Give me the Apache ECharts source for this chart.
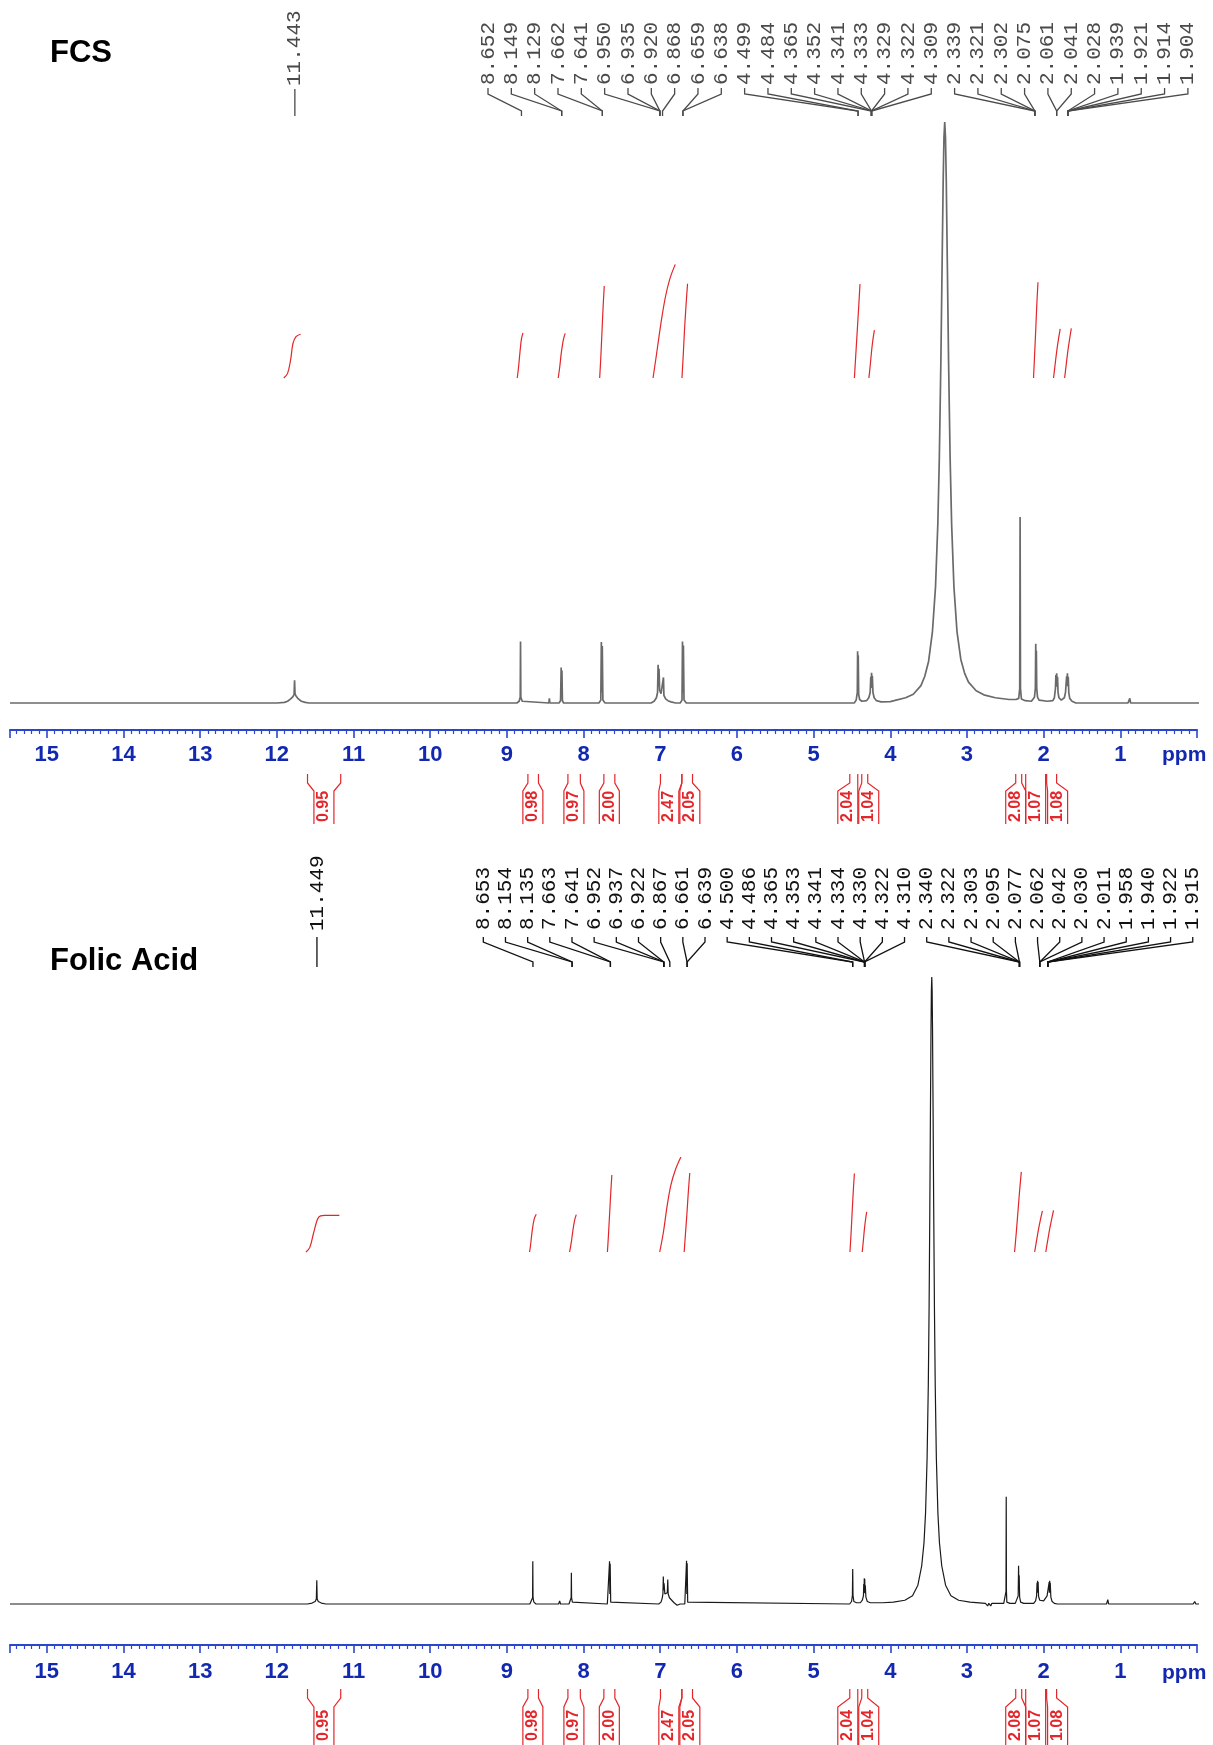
<!DOCTYPE html>
<html><head><meta charset="utf-8">
<script src="https://cdn.jsdelivr.net/npm/echarts@6/dist/echarts.min.js"></script>
<style>html,body{margin:0;padding:0;background:#fff}#c{width:1213px;height:1745px}</style>
</head><body><div id="c"></div>
<script>
// ---------------- data ----------------
const panelTitles = ['FCS', 'Folic Acid'];
const axisUnit = 'ppm';
const ppmMin = 0, ppmMax = 15.48, ppmStep = 1;

// spectra: [ppm, intensity as % of the solvent/water peak]
const fcsSpectrum = [
 [15.48,0],[12.0,0],
 [11.90,0.1],[11.86,0.3],[11.82,0.7],[11.79,1.1],[11.775,1.5],[11.769,3.9],[11.763,1.6],[11.75,1.2],[11.72,0.7],[11.68,0.3],[11.63,0.1],[11.58,0],
 [8.87,0],[8.84,0.3],[8.826,1.0],[8.822,10.6],[8.818,1.0],[8.80,0.3],[8.78,0],
 [8.452,0],[8.446,0.8],[8.440,0],
 [8.32,0],[8.30,0.4],[8.292,6.1],[8.288,1.5],[8.282,5.6],[8.276,0.4],[8.26,0],
 [7.80,0],[7.775,0.5],[7.768,10.5],[7.762,1.8],[7.756,9.8],[7.748,0.5],[7.72,0],
 [7.12,0],[7.08,0.3],[7.05,0.9],[7.035,1.8],[7.028,6.6],[7.022,2.8],[7.016,5.9],[7.008,2.2],[6.99,1.6],[6.965,1.5],[6.958,4.4],[6.952,1.3],[6.93,0.7],[6.90,0.4],[6.86,0.2],[6.80,0],
 [6.74,0],[6.716,0.5],[6.710,10.6],[6.704,1.8],[6.698,9.9],[6.690,0.5],[6.66,0],
 [4.47,0],[4.445,0.5],[4.430,1.8],[4.426,8.9],[4.422,2.6],[4.418,8.2],[4.412,1.5],[4.40,0.6],[4.37,0.3],[4.31,0.4],[4.28,0.9],[4.262,1.8],[4.254,4.5],[4.249,2.6],[4.244,5.2],[4.239,2.6],[4.234,4.7],[4.226,1.8],[4.21,0.9],[4.18,0.4],[4.12,0.2],[4.0,0.25],
 [3.95,0.4],[3.80,0.9],[3.70,1.5],[3.60,3.0],[3.55,4.6],[3.50,7.2],[3.45,12.3],[3.41,20],[3.38,30.8],[3.36,42.4],[3.34,59],[3.325,74.6],[3.31,90],[3.30,97.3],[3.29,100],
 [3.28,97.3],[3.27,90],[3.255,74.6],[3.24,59],[3.22,42.4],[3.20,30.8],[3.17,20],[3.13,12.3],[3.08,7.5],[3.03,5.1],[2.98,3.6],[2.88,2.1],[2.78,1.4],[2.63,0.9],[2.45,0.6],
 [2.36,0.6],[2.325,0.8],[2.312,2.5],[2.307,32],[2.302,2.5],[2.29,0.7],[2.24,0.4],[2.16,0.3],
 [2.14,0.4],[2.12,1.0],[2.108,2.5],[2.103,10.2],[2.099,4.5],[2.095,9.0],[2.090,2.5],[2.08,1.0],[2.06,0.5],[1.95,0.3],
 [1.88,0.4],[1.86,0.9],[1.846,2.5],[1.840,4.8],[1.835,2.8],[1.830,5.1],[1.825,3.0],[1.819,4.5],[1.812,1.8],[1.80,0.9],[1.77,0.5],[1.755,0.6],
 [1.73,0.9],[1.715,1.8],[1.700,4.6],[1.695,3.0],[1.690,5.1],[1.685,2.9],[1.679,4.5],[1.672,1.8],[1.66,0.8],[1.63,0.3],[1.58,0],
 [0.90,0],[0.876,0.8],[0.866,0],[-0.2,0]
];
const folicSpectrum = [
 [15.48,0],[11.60,0],[11.54,0.15],[11.50,0.4],[11.485,0.8],[11.479,3.8],[11.474,0.8],[11.46,0.4],[11.42,0.15],[11.36,0],
 [8.70,0],[8.675,0.3],[8.665,1.0],[8.662,6.8],[8.659,1.0],[8.648,0.3],[8.62,0],
 [8.325,0],[8.312,0.5],[8.300,0],
 [8.19,0],[8.17,0.3],[8.162,1.0],[8.159,5.0],[8.156,1.0],[8.146,0.3],[8.12,0],
 [7.69,0],[7.667,0.3],[7.661,6.8],[7.657,1.6],[7.653,6.4],[7.646,0.3],[7.62,0],
 [7.02,0],[6.99,0.3],[6.975,0.9],[6.965,1.6],[6.960,4.4],[6.955,2.2],[6.950,3.3],[6.94,1.6],[6.925,1.3],[6.908,1.8],[6.902,3.9],[6.896,1.6],[6.88,1.0],[6.85,0.6],[6.82,0.2],[6.78,-0.2],[6.74,0],
 [6.68,0],[6.662,0.3],[6.657,6.9],[6.653,1.6],[6.649,6.5],[6.642,0.3],[6.62,0],
 [4.53,0],[4.505,0.4],[4.494,1.4],[4.490,5.6],[4.486,1.4],[4.475,0.4],[4.44,0.2],
 [4.39,0.2],[4.365,0.6],[4.350,1.3],[4.346,3.2],[4.342,1.8],[4.339,4.1],[4.336,1.9],[4.333,4.0],[4.330,1.7],[4.326,3.0],[4.318,1.1],[4.30,0.4],[4.26,0.2],
 [4.10,0.2],[3.96,0.3],[3.81,0.6],[3.71,1.3],[3.64,3.0],[3.59,6.1],[3.56,9.8],[3.54,14.5],[3.52,23.2],[3.504,35],[3.494,47],[3.484,63.5],[3.476,79],[3.469,91.6],[3.464,97.8],[3.459,100],
 [3.454,97.8],[3.449,91.6],[3.442,79],[3.434,63.5],[3.424,47],[3.414,35],[3.399,23.2],[3.379,14.5],[3.359,9.8],[3.329,6.1],[3.279,3.0],[3.209,1.3],[3.109,0.6],[2.96,0.3],[2.80,0.15],
 [2.76,0.1],[2.73,-0.3],[2.715,0.1],[2.69,-0.3],[2.675,0.1],[2.60,0.1],
 [2.52,0.1],[2.495,0.3],[2.491,2.0],[2.488,17.1],[2.485,2.0],[2.48,0.3],[2.44,0.1],
 [2.37,0.1],[2.345,0.4],[2.332,1.3],[2.327,6.1],[2.323,2.6],[2.319,4.6],[2.313,1.1],[2.30,0.3],[2.26,0.1],
 [2.13,0.1],[2.105,0.5],[2.092,1.3],[2.086,3.4],[2.083,1.8],[2.079,3.7],[2.076,1.8],[2.072,3.5],[2.066,1.2],[2.05,0.6],[2.00,0.5],[1.975,0.7],
 [1.955,1.3],[1.935,1.6],[1.928,3.5],[1.925,1.8],[1.921,3.7],[1.918,1.8],[1.914,3.4],[1.906,1.1],[1.89,0.4],[1.86,0.1],[1.82,0],
 [1.18,0],[1.163,0.7],[1.153,0],
 [0.05,0],[0.03,0.4],[0.015,0],[-0.2,0]
];

// peak picking labels and the ppm where each leader meets the drawn spectrum
const fcsPeakLabels = ['8.652','8.149','8.129','7.662','7.641','6.950','6.935','6.920','6.868','6.659','6.638','4.499','4.484','4.365','4.352','4.341','4.333','4.329','4.322','4.309','2.339','2.321','2.302','2.075','2.061','2.041','2.028','1.939','1.921','1.914','1.904'];
const fcsPeakTargets = [8.81,8.285,8.285,7.755,7.755,7.005,7.005,7.005,6.97,6.704,6.704,4.42,4.42,4.245,4.245,4.245,4.245,4.245,4.245,4.245,2.115,2.115,2.115,2.115,1.83,1.83,1.685,1.685,1.685,1.685,1.685];
const fcsSingleLabel = '11.443', fcsSingleTarget = 11.765;
const folicPeakLabels = ['8.653','8.154','8.135','7.663','7.641','6.952','6.937','6.922','6.867','6.661','6.639','4.500','4.486','4.365','4.353','4.341','4.334','4.330','4.322','4.310','2.340','2.322','2.303','2.095','2.077','2.062','2.042','2.030','2.011','1.958','1.940','1.922','1.915'];
const folicPeakTargets = [8.66,8.15,8.15,7.65,7.65,6.953,6.953,6.953,6.875,6.65,6.65,4.49,4.49,4.335,4.335,4.335,4.335,4.335,4.335,4.335,2.315,2.315,2.315,2.315,2.315,2.05,2.05,2.05,1.946,1.946,1.946,1.946,1.946];
const folicSingleLabel = '11.449', folicSingleTarget = 11.477;

// integrals (same values in both spectra)
const integralValues = ['0.95','0.98','0.97','2.00','2.47','2.05','2.04','1.04','2.08','1.07','1.08'];
const integralRegions = [[11.60,11.167],[8.726,8.588],[8.204,8.042],[7.735,7.592],[6.997,6.718],[6.718,6.579],[4.528,4.424],[4.372,4.294],[2.364,2.286],[2.234,1.974],[1.961,1.831]];
const integralCenters = [11.386,8.661,8.126,7.664,6.888,6.614,4.554,4.281,2.364,2.104,1.818];

const fcsIntegralCurves = [
 [[11.91,0],[11.86,0.1],[11.82,0.4],[11.79,0.75],[11.75,0.9],[11.69,0.95]],
 [[8.865,0],[8.85,0.2],[8.83,0.55],[8.81,0.85],[8.79,0.98]],
 [[8.33,0],[8.31,0.25],[8.29,0.55],[8.265,0.82],[8.24,0.97]],
 [[7.79,0],[7.775,0.45],[7.76,1.0],[7.745,1.55],[7.73,2.0]],
 [[7.094,0],[7.05,0.5],[6.99,1.2],[6.934,1.75],[6.876,2.15],[6.804,2.47]],
 [[6.717,0],[6.70,0.5],[6.685,1.0],[6.665,1.55],[6.644,2.05]],
 [[4.468,0],[4.45,0.5],[4.43,1.05],[4.41,1.6],[4.395,2.04]],
 [[4.279,0],[4.26,0.3],[4.243,0.6],[4.225,0.85],[4.207,1.04]],
 [[2.132,0],[2.118,0.5],[2.103,1.05],[2.089,1.6],[2.074,2.08]],
 [[1.871,0],[1.85,0.3],[1.828,0.6],[1.806,0.85],[1.784,1.07]],
 [[1.726,0],[1.705,0.3],[1.683,0.6],[1.661,0.85],[1.639,1.08]]
];
const folicIntegralCurves = [
 [[11.62,0],[11.57,0.12],[11.52,0.5],[11.47,0.85],[11.43,0.94],[11.38,0.95],[11.185,0.95]],
 [[8.704,0],[8.69,0.2],[8.67,0.55],[8.645,0.85],[8.617,0.98]],
 [[8.182,0],[8.16,0.25],[8.14,0.55],[8.117,0.82],[8.095,0.97]],
 [[7.689,0],[7.675,0.45],[7.66,1.0],[7.645,1.55],[7.631,2.0]],
 [[7.007,0],[6.96,0.5],[6.91,1.2],[6.86,1.75],[6.80,2.15],[6.731,2.47]],
 [[6.688,0],[6.67,0.5],[6.652,1.0],[6.634,1.55],[6.615,2.05]],
 [[4.526,0],[4.511,0.5],[4.497,1.05],[4.482,1.6],[4.468,2.04]],
 [[4.366,0],[4.351,0.3],[4.337,0.6],[4.322,0.85],[4.308,1.04]],
 [[2.379,0],[2.357,0.5],[2.335,1.05],[2.313,1.6],[2.291,2.08]],
 [[2.117,0],[2.092,0.3],[2.066,0.6],[2.041,0.85],[2.016,1.07]],
 [[1.972,0],[1.947,0.3],[1.921,0.6],[1.896,0.85],[1.871,1.08]]
];

// ---------------- layout / style ----------------
const BLUE = '#2a46cc', BLUE_TXT = '#1228b0', RED = '#e3262a';
const MONO = '"Liberation Mono", "DejaVu Sans Mono", monospace';
const SANS = '"Liberation Sans", Arial, sans-serif';
const peakLayout = [
 { x0: 488, step: 23.33, font: 21, textY: 85, y0: 88, y1: 94, y2: 111, y3: 116, sTextY: 86, sY0: 89, color: '#4a4a4a' },
 { x0: 483.3, step: 22.17, font: 21, textY: 930, y0: 937, y1: 942, y2: 962, y3: 967, sTextY: 931, sY0: 937, color: '#111' }
];
const intLayout = [
 { y0: 774, y1: 783, y2: 791, y3: 824, textY: 822 },
 { y0: 1689, y1: 1698, y2: 1707, y3: 1750, textY: 1741 }
];

function peakRender(labels, single, lay) {
  return function (params, api) {
    const idx = api.value(2);
    const xt = api.coord([api.value(0), 0])[0];
    const font = { fontSize: lay.font, fontFamily: MONO, fill: lay.color, align: 'left', verticalAlign: 'middle', textAlign: 'left', textVerticalAlign: 'middle' };
    if (idx < 0) {
      return { type: 'group', children: [
        { type: 'line', shape: { x1: xt, y1: lay.sY0, x2: xt, y2: lay.y3 }, style: { stroke: lay.color, lineWidth: 1.3 } },
        { type: 'text', x: xt, y: lay.sTextY, rotation: Math.PI / 2, style: Object.assign({ text: single }, font) }
      ]};
    }
    const xl = lay.x0 + idx * lay.step;
    return { type: 'group', children: [
      { type: 'polyline', shape: { points: [[xl, lay.y0], [xl, lay.y1], [xt, lay.y2], [xt, lay.y3]] }, style: { stroke: lay.color, lineWidth: 1.3, fill: 'none' } },
      { type: 'text', x: xl, y: lay.textY, rotation: Math.PI / 2, style: Object.assign({ text: labels[idx] }, font) }
    ]};
  };
}
function intRender(lay) {
  return function (params, api) {
    const i = api.value(2);
    const xa = api.coord([integralRegions[i][0], 0])[0];
    const xb = api.coord([integralRegions[i][1], 0])[0];
    const xc = api.coord([api.value(0), 0])[0];
    const hw = 10;
    const st = { stroke: RED, lineWidth: 1.2, fill: 'none' };
    return { type: 'group', children: [
      { type: 'polyline', shape: { points: [[xa, lay.y0], [xa, lay.y1], [xc - hw, lay.y2], [xc - hw, lay.y3]] }, style: st },
      { type: 'polyline', shape: { points: [[xb, lay.y0], [xb, lay.y1], [xc + hw, lay.y2], [xc + hw, lay.y3]] }, style: st },
      { type: 'text', x: xc, y: lay.textY, rotation: Math.PI / 2, style: { text: integralValues[i], fontSize: 16, fontWeight: 'bold', fontFamily: SANS, fill: RED, align: 'left', verticalAlign: 'middle', textAlign: 'left', textVerticalAlign: 'middle' } }
    ]};
  };
}

function xAxisFor(grid, offset, margin) {
  return {
    gridIndex: grid, type: 'value', inverse: true, min: ppmMin, max: ppmMax, interval: ppmStep,
    position: 'bottom', offset: offset,
    axisLine: { show: true, onZero: false, lineStyle: { color: BLUE, width: 2 } },
    axisTick: { show: true, length: 8, lineStyle: { color: BLUE, width: 1.6 } },
    minorTick: { show: true, splitNumber: 10, length: 4, lineStyle: { color: BLUE, width: 1.2 } },
    splitLine: { show: false }, minorSplitLine: { show: false },
    axisLabel: {
      margin: margin, color: BLUE_TXT, fontSize: 22, fontWeight: 'bold', fontFamily: SANS,
      formatter: v => (Math.abs(v - Math.round(v)) < 1e-6 && v >= 1 && v <= 15) ? String(Math.round(v)) : ''
    }
  };
}

const series = [];
[fcsSpectrum, folicSpectrum].forEach((d, k) => {
  series.push({ type: 'line', xAxisIndex: k, yAxisIndex: k * 2, data: d, showSymbol: false, clip: false, z: 2,
    lineStyle: { color: k === 0 ? '#6a6a6a' : '#1a1a1a', width: k === 0 ? 1.7 : 1.2 }, silent: true });
});
[fcsIntegralCurves, folicIntegralCurves].forEach((curves, k) => {
  curves.forEach(c => series.push({ type: 'line', xAxisIndex: k, yAxisIndex: k * 2 + 1, data: c, smooth: 0.35,
    showSymbol: false, clip: false, z: 3, lineStyle: { color: RED, width: 1.2 }, silent: true }));
});
[[fcsPeakLabels, fcsPeakTargets, fcsSingleLabel, fcsSingleTarget], [folicPeakLabels, folicPeakTargets, folicSingleLabel, folicSingleTarget]].forEach((p, k) => {
  const data = p[1].map((t, i) => [t, 0, i]);
  data.push([p[3], 0, -1]);
  series.push({ type: 'custom', xAxisIndex: k, yAxisIndex: k * 2, clip: false, silent: true, z: 4,
    renderItem: peakRender(p[0], p[2], peakLayout[k]), data: data });
  series.push({ type: 'custom', xAxisIndex: k, yAxisIndex: k * 2, clip: false, silent: true, z: 4,
    renderItem: intRender(intLayout[k]), data: integralCenters.map((c, i) => [c, 0, i]) });
});

const titleStyle = { fontSize: 31, fontWeight: 'bold', color: '#000', fontFamily: SANS };
const unitStyle = { fontSize: 21, fontWeight: 'bold', color: BLUE_TXT, fontFamily: SANS };
const option = {
  animation: false,
  backgroundColor: '#fff',
  title: [
    { text: panelTitles[0], left: 50, top: 38, padding: 0, textStyle: titleStyle },
    { text: panelTitles[1], left: 50, top: 946, padding: 0, textStyle: titleStyle },
    { text: axisUnit, left: 1162, top: 745, padding: 0, textStyle: unitStyle },
    { text: axisUnit, left: 1162, top: 1663, padding: 0, textStyle: unitStyle }
  ],
  grid: [
    { left: 10, right: 16, top: 122, height: 581 },
    { left: 10, right: 16, top: 977, height: 627 }
  ],
  xAxis: [xAxisFor(0, 27, 14), xAxisFor(1, 41, 16)],
  yAxis: [
    { gridIndex: 0, type: 'value', min: 0, max: 100, show: false },
    { gridIndex: 0, type: 'value', min: -7.065, max: 5.565, show: false },
    { gridIndex: 1, type: 'value', min: 0, max: 100, show: false },
    { gridIndex: 1, type: 'value', min: -9.143, max: 7.143, show: false }
  ],
  series: series
};
const chart = echarts.init(document.getElementById('c'), null, { renderer: 'canvas' });
chart.setOption(option);
</script></body></html>
